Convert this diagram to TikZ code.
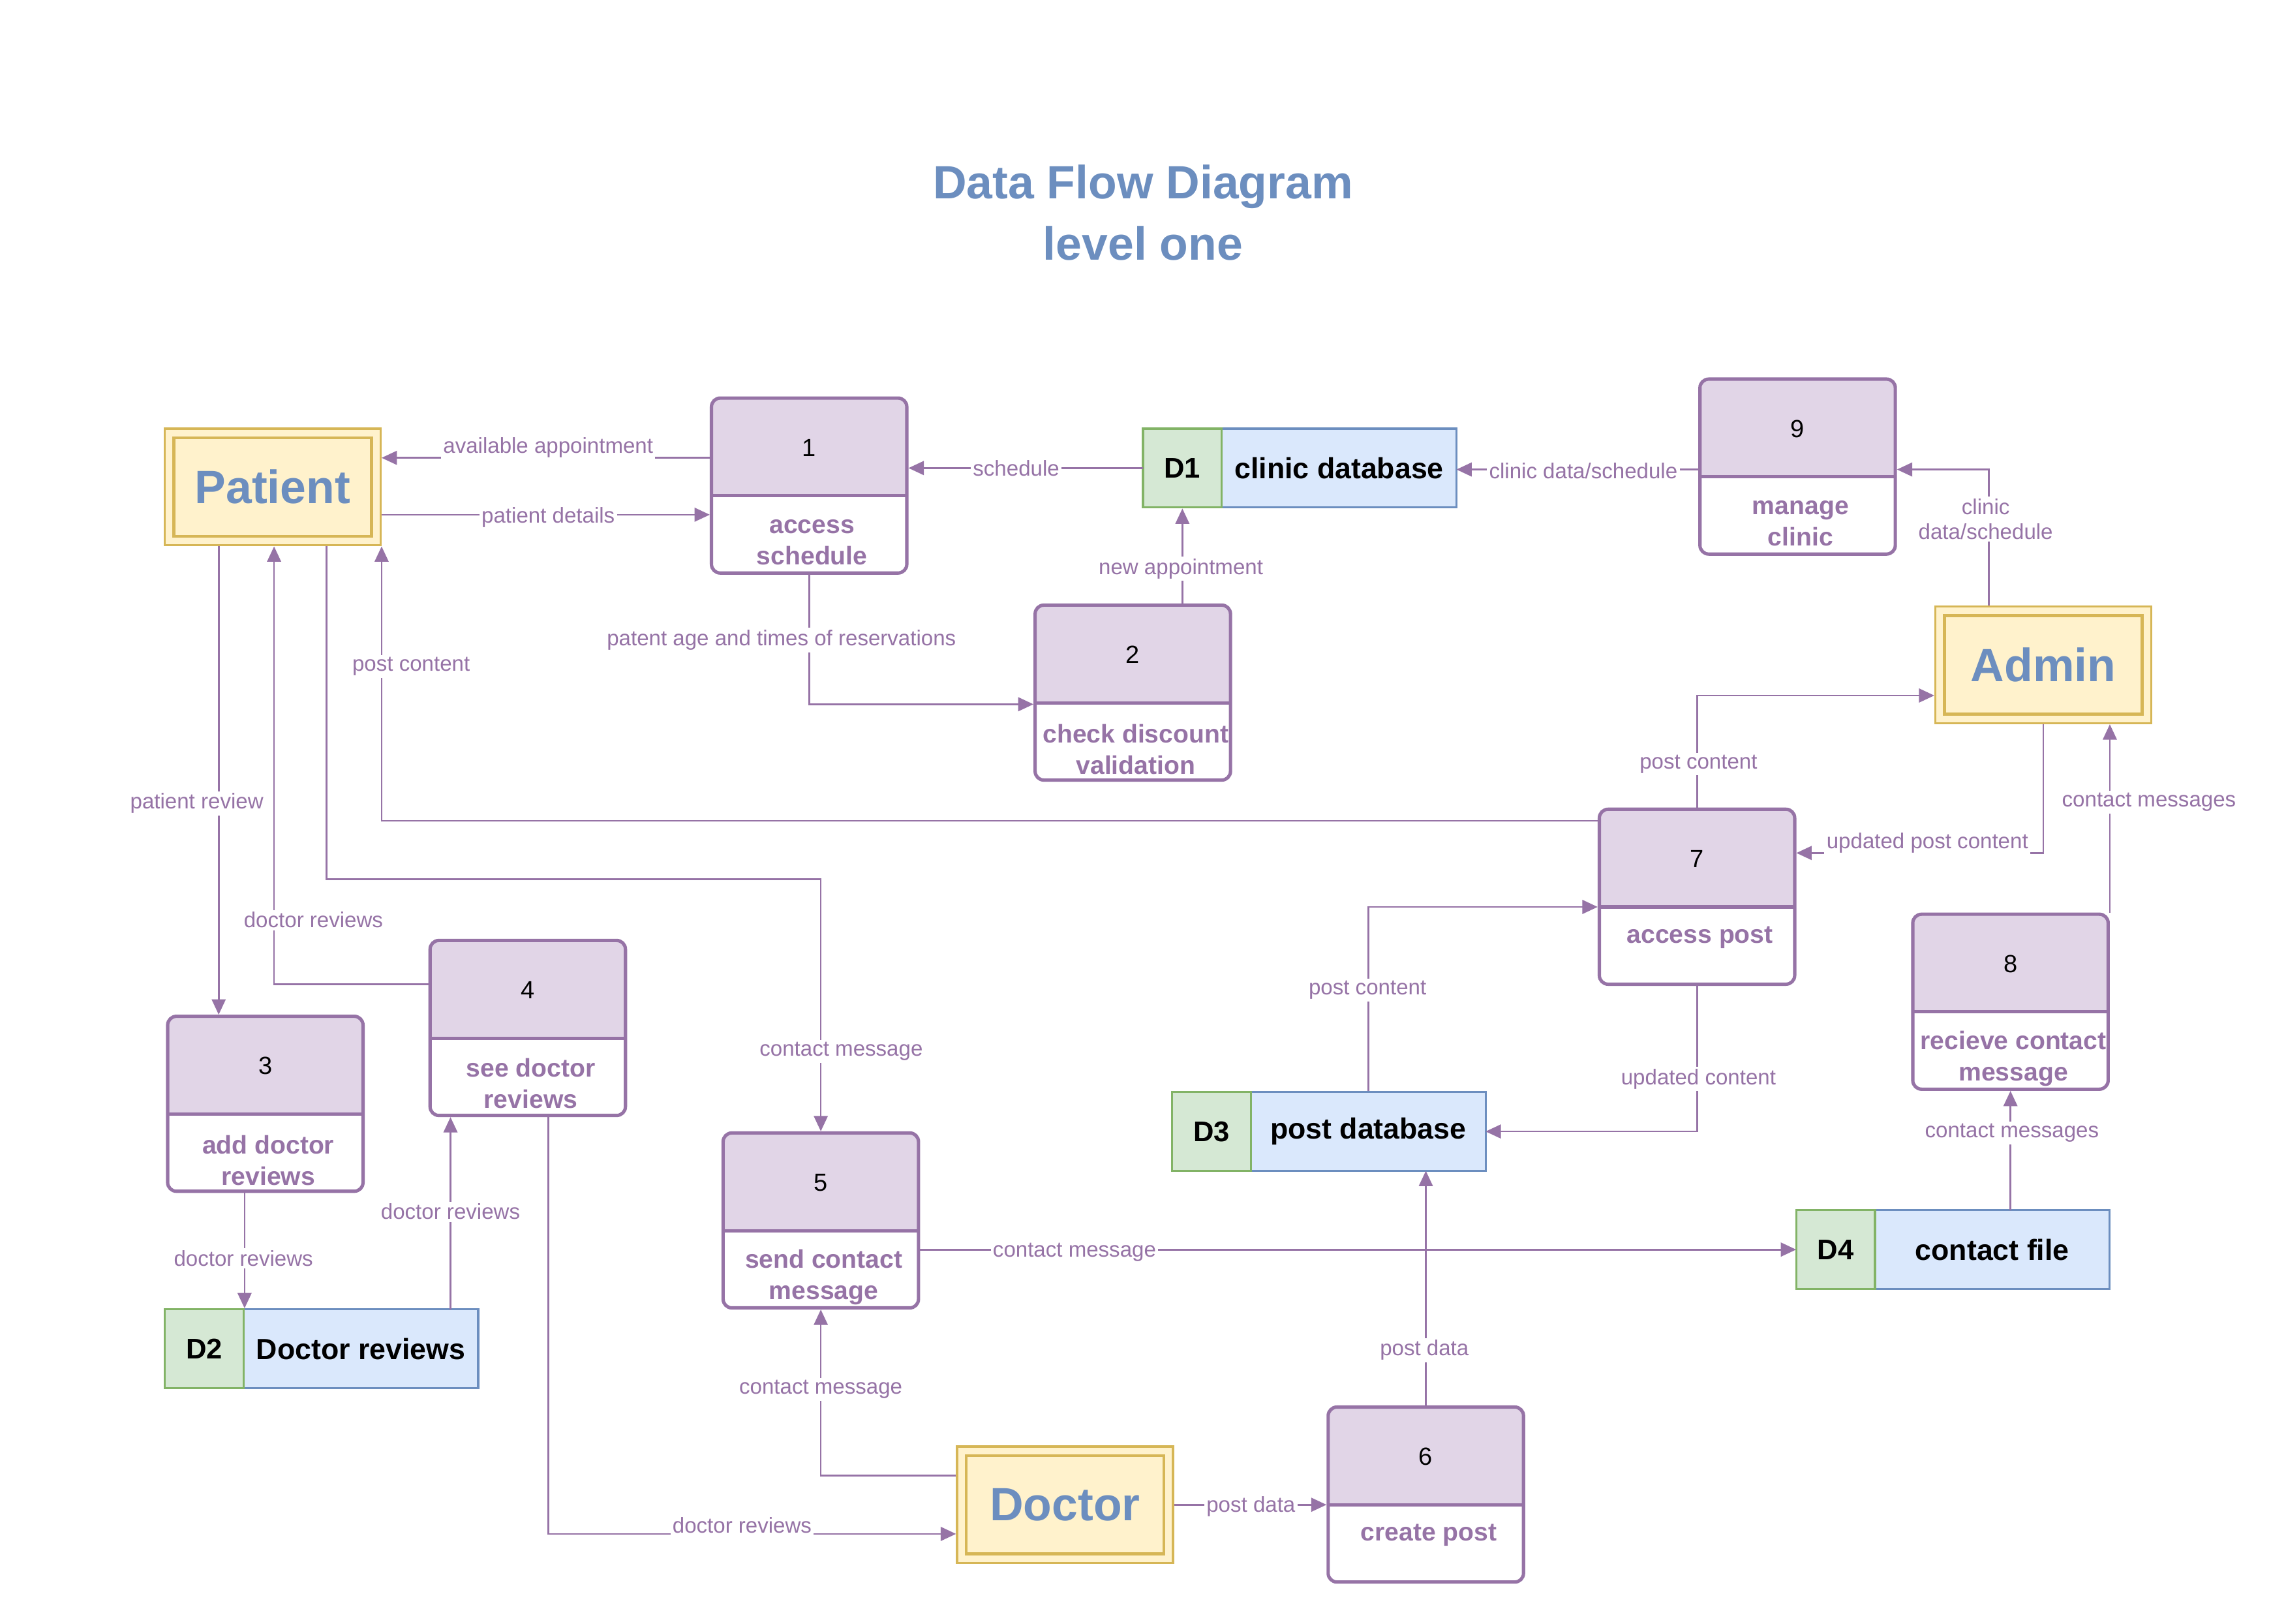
\documentclass[tikz,border=0pt]{standalone}
\usepackage{fontspec}
\setmainfont{Liberation Sans}
\usetikzlibrary{arrows.meta}
\definecolor{pc}{HTML}{9673A6}
\definecolor{pfill}{HTML}{E1D5E7}
\definecolor{yfill}{HTML}{FFF2CC}
\definecolor{ydraw}{HTML}{D6B656}
\definecolor{gfill}{HTML}{D5E8D4}
\definecolor{gdraw}{HTML}{82B366}
\definecolor{bfill}{HTML}{DAE8FC}
\definecolor{bdraw}{HTML}{6C8EBF}
\tikzset{
  flow/.style={draw=pc, line width=1.2pt, -{Triangle[length=10.5pt,width=9.5pt]}},
  lab/.style={font=\fontsize{14.8}{17}\selectfont, text=pc, fill=white, inner sep=1.5pt, align=center},
  procnode/.style={draw=pc, line width=2.3pt, rounded corners=6pt, minimum width=134pt, minimum height=120pt, inner sep=0pt},
  numtext/.style={font=\fontsize{17}{20}\selectfont, text=black, inner sep=0pt},
  proctext/.style={font=\bfseries\fontsize{17.5}{21.5}\selectfont, text=pc, align=center, inner sep=0pt},
  entity/.style={draw=ydraw, fill=yfill, line width=1.5pt, minimum width=148pt, minimum height=80pt, inner sep=0pt, font=\bfseries\fontsize{32}{36}\selectfont, text=bdraw},
  storeall/.style={minimum width=215pt, minimum height=54pt, inner sep=0pt, outer sep=0pt},
  storeid/.style={draw=gdraw, fill=gfill, line width=1.5pt, minimum width=54pt, minimum height=54pt, inner sep=0pt, font=\bfseries\fontsize{19.5}{22}\selectfont},
  storename/.style={draw=bdraw, fill=bfill, line width=1.5pt, minimum width=161pt, minimum height=54pt, inner sep=0pt, font=\bfseries\fontsize{20}{24}\selectfont},
  titletext/.style={font=\bfseries\fontsize{32}{36}\selectfont, text=bdraw, inner sep=0pt}
}
\newcommand\procbox[6]{%
  \begin{scope}
    \clip (#2,#3) rectangle (#2+134,#3+67);
    \fill[pfill, rounded corners=6pt] (#2,#3) rectangle (#2+134,#3+120);
  \end{scope}
  \node[procnode] (#1) at (#2+67,#3+60) {};
  \draw[pc, line width=2.3pt] (#2,#3+67) -- (#2+134,#3+67);
  \node[numtext] (#1num) at (#2+67,#3+34) {#4};
  \node[proctext] (#1txt) at (#2+69,#3+#6) {#5};
}
\newcommand\datastore[5]{%
  \node[storeall] (#1) at (#2+107.5,#3+27) {};
  \node[storename] (#1n) at (#2+134.5,#3+27) {#5};
  \node[storeid] (#1id) at (#2+27,#3+27) {#4};
}
\newcommand\entitybox[4]{%
  \node[entity] (#1) at (#2,#3) {#4};
  \draw[ydraw, line width=2pt] ([shift={(7pt,-7pt)}]#1.north west) rectangle ([shift={(-7pt,7pt)}]#1.south east);
}
\begin{document}
\begin{tikzpicture}[x=1pt,y=-1pt]
\useasboundingbox[fill=white] (0,0) rectangle (1568,1113.4);

% title
\node[titletext] (t1) at (784,128) {Data Flow Diagram};
\node[titletext] (t2) at (784,167) {level one};

% entities
\entitybox{pat}{187}{334}{Patient}
\entitybox{adm}{1401.5}{456}{Admin}
\entitybox{doc}{730.5}{1032}{Doctor}

% processes
\procbox{p1}{488}{273}{1}{access\\schedule}{99}
\procbox{p2}{710}{415}{2}{check discount\\validation}{99}
\procbox{p9}{1166}{260}{9}{manage\\clinic}{99}
\procbox{p7}{1097}{555}{7}{access post}{88}
\procbox{p8}{1312}{627}{8}{recieve contact\\message}{99}
\procbox{p4}{295}{645}{4}{see doctor\\reviews}{98}
\procbox{p3}{115}{697}{3}{add doctor\\reviews}{99}
\procbox{p5}{496}{777}{5}{send contact\\message}{99}
\procbox{p6}{911}{965}{6}{create post}{88}

% data stores
\datastore{d1}{784}{294}{D1}{clinic database}
\datastore{d3}{804}{749}{D3}{post database}
\datastore{d4}{1232}{830}{D4}{contact file}
\datastore{d2}{113}{898}{D2}{Doctor reviews}

% connectors
\draw[flow] (p1.west |- 0,314) -- (pat.east |- 0,314);
\draw[flow] (pat.east |- 0,353) -- (p1.west |- 0,353);
\draw[flow] (d1.west) -- (p1.east |- d1.west);
\draw[flow] (p9.west |- 0,322) -- (d1.east |- 0,322);
\draw[flow] (d1id.south |- p2.north) -- (d1id.south);
\draw[flow] (p1.south) |- (p2.west |- 0,483);
\draw[flow] (adm.north -| 1364,0) |- (p9.east |- 0,322);
\draw[flow] (p7.north) |- (adm.west |- 0,477);
\draw[flow] (adm.south) |- (p7.east |- 0,585);
\draw[flow] (p8.north east) -- (p8.north east |- adm.south);
\draw[flow] (p8.south |- d4.north) -- (p8.south);
\draw[flow] (p7.west |- 0,563) -| (pat.south east);
\draw[flow] (d3n.north) |- (p7.west |- 0,622);
\draw[flow] (p7.south) |- (d3.east);
\draw[flow] (p6.north) -- (p6.north |- d3.south);
\draw[flow] (doc.east) -- (p6.west |- doc.east);
\draw[flow] (doc.west |- 0,1012) -| (p5.south);
\draw[flow] (p5.east |- d4.west) -- (d4.west);
\draw[flow] (pat.south -| 224,0) |- (p5.north |- 0,603) -- (p5.north);
\draw[flow] (p4.south -| 376,0) |- (doc.west |- 0,1052);
\draw[flow] (pat.south -| 150,0) -- (p3.north -| 150,0);
\draw[flow] (p4.west |- 0,675) -| (pat.south -| 188,0);
\draw[flow] (p3.south -| d2id.north east) -- (d2id.north east);
\draw[flow] (d2.north -| 309,0) -- (p4.south -| 309,0);

% labels
\node[lab] (l1) at (376,307) {available appointment};
\node[lab] (l2) at (376,355) {patient details};
\node[lab] (l3) at (697,321) {schedule};
\node[lab] (l4) at (1086,323) {clinic data/schedule};
\node[lab] (l5) at (810,390) {new appointment};
\node[lab] (l6) at (536,439) {patent age and times of reservations};
\node[lab] (l7) at (1362,356) {clinic\\data/schedule};
\node[lab] (l8) at (1165,524) {post content};
\node[lab] (l9) at (1322,578) {updated post content};
\node[lab] (l10) at (1474,550) {contact messages};
\node[lab] (l11) at (1380,777) {contact messages};
\node[lab] (l12) at (282,457) {post content};
\node[lab] (l13) at (938,679) {post content};
\node[lab] (l14) at (1165,740) {updated content};
\node[lab] (l15) at (977,926) {post data};
\node[lab] (l16) at (858,1033) {post data};
\node[lab] (l17) at (563,953) {contact message};
\node[lab] (l18) at (737,859) {contact message};
\node[lab] (l19) at (577,721) {contact message};
\node[lab] (l20) at (509,1046) {doctor reviews};
\node[lab] (l21) at (135,551) {patient review};
\node[lab] (l22) at (215,631) {doctor reviews};
\node[lab] (l23) at (167,863) {doctor reviews};
\node[lab] (l24) at (309,831) {doctor reviews};
\end{tikzpicture}
\end{document}
